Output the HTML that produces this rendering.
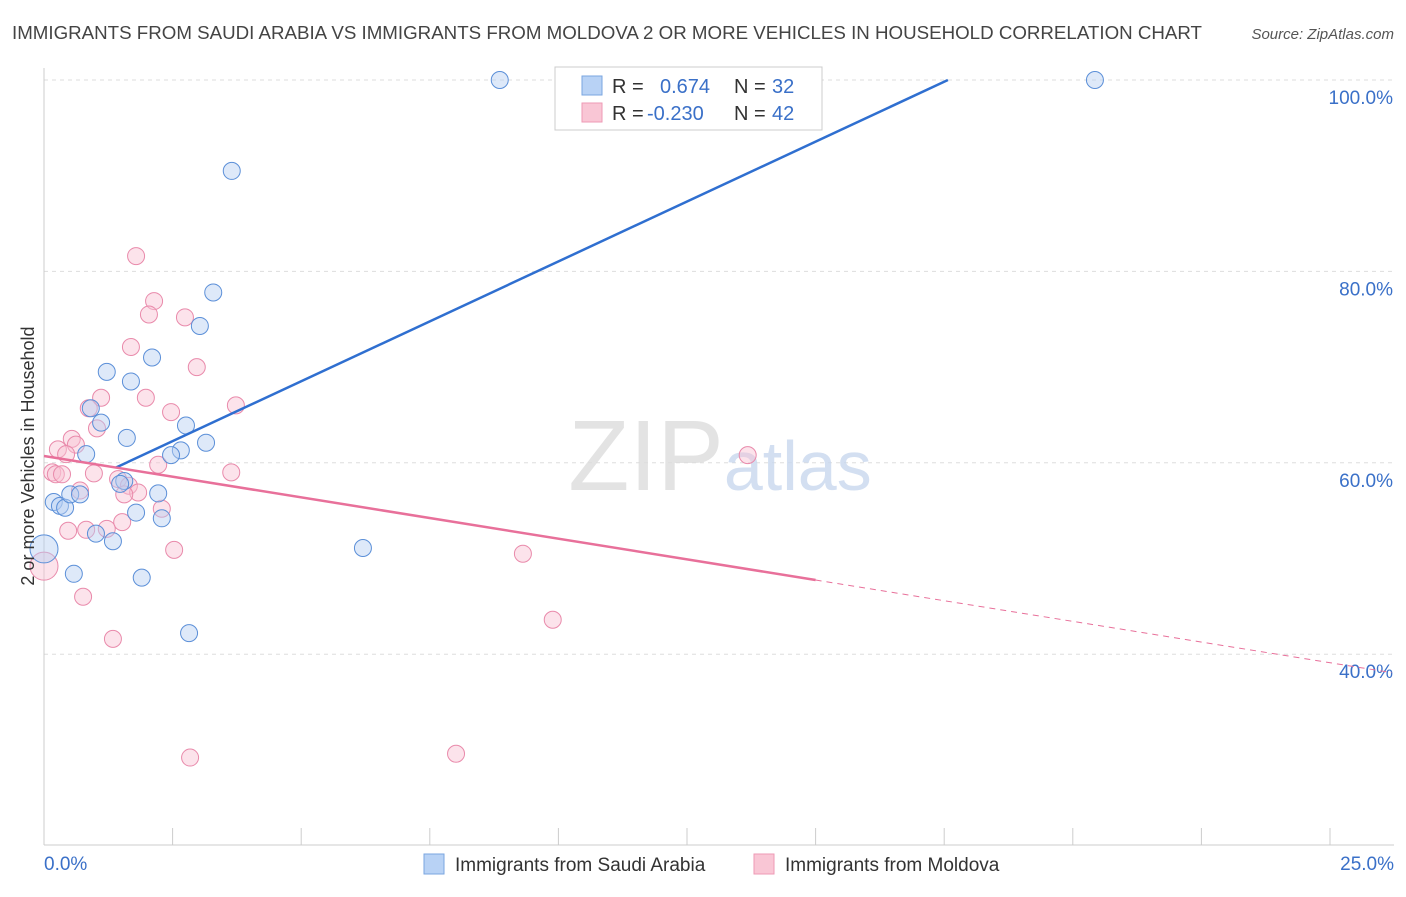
<!DOCTYPE html>
<html><head><meta charset="utf-8"><style>
body{margin:0;background:#fff;font-family:"Liberation Sans",sans-serif;}
svg text{font-family:"Liberation Sans",sans-serif;}
</style></head><body>
<svg id="chart" width="1406" height="892" xmlns="http://www.w3.org/2000/svg">
<text x="12" y="39" font-size="18.8" fill="#444" textLength="1190" lengthAdjust="spacingAndGlyphs">IMMIGRANTS FROM SAUDI ARABIA VS IMMIGRANTS FROM MOLDOVA 2 OR MORE VEHICLES IN HOUSEHOLD CORRELATION CHART</text>
<text x="1394" y="39" font-size="15" fill="#555" text-anchor="end" font-style="italic">Source: ZipAtlas.com</text>
<g id="grid"></g>
<text x="720" y="490" font-size="100" text-anchor="middle" fill="#ddd" font-family="Liberation Serif" opacity="0.8">ZIP<tspan fill="#c9d8ee" font-family="Liberation Sans" font-size="70">atlas</tspan></text>
<g id="marks"></g>
<text transform="translate(34,456) rotate(-90)" font-size="18" fill="#333" text-anchor="middle">2 or more Vehicles in Household</text>
<text x="44" y="870" font-size="19" fill="#3a70c8">0.0%</text>
<text x="1394" y="870" font-size="19" fill="#3a70c8" text-anchor="end">25.0%</text>
<g>
<rect x="555" y="67" width="267" height="63" fill="#fff" stroke="#ccc"/>
<rect x="582" y="76" width="20" height="19" fill="#b8d2f5" stroke="#7aa6e0"/>
<rect x="582" y="103" width="20" height="19" fill="#f9c6d5" stroke="#ee9ab5"/>
<text x="612" y="93" font-size="20" fill="#333">R =</text>
<text x="660" y="93" font-size="20" fill="#3a70c8">0.674</text>
<text x="734" y="93" font-size="20" fill="#333">N =</text>
<text x="772" y="93" font-size="20" fill="#3a70c8">32</text>
<text x="612" y="120" font-size="20" fill="#333">R =</text>
<text x="647" y="120" font-size="20" fill="#3a70c8">-0.230</text>
<text x="734" y="120" font-size="20" fill="#333">N =</text>
<text x="772" y="120" font-size="20" fill="#3a70c8">42</text>
</g>
<g>
<rect x="424" y="854" width="20" height="20" fill="#b8d2f5" stroke="#7aa6e0"/>
<text x="455" y="871" font-size="19" fill="#333">Immigrants from Saudi Arabia</text>
<rect x="754" y="854" width="20" height="20" fill="#f9c6d5" stroke="#ee9ab5"/>
<text x="785" y="871" font-size="19" fill="#333">Immigrants from Moldova</text>
</g>
</svg>
<script>
const yTicks=[40,60,80,100];
const yTickLabels=["40.0%","60.0%","80.0%","100.0%"];
const xTicks=[0,2.5,5,7.5,10,12.5,15,17.5,20,22.5,25];
const saudiX=[8.86,20.43,3.65,3.29,3.03,2.1,1.22,1.69,0.91,1.11,1.61,2.76,3.15,2.66,2.47,0.82,1.56,1.48,0.19,0.31,0.41,0.51,0.7,2.22,1.79,2.29,1.01,1.34,6.2,0,0.58,1.9,2.82];
const saudiY=[100,100,90.5,77.8,74.3,71,69.5,68.5,65.7,64.2,62.6,63.9,62.1,61.3,60.8,60.9,58.1,57.8,55.9,55.5,55.3,56.7,56.7,56.8,54.8,54.2,52.6,51.8,51.1,51,48.4,48,42.2];
const moldX=[1.79,2.14,2.04,2.74,1.69,2.97,1.98,3.73,1.11,0.87,2.47,1.03,0.54,0.62,0.27,0.43,0.16,0.23,0.35,0.97,3.64,2.22,1.44,1.65,1.83,0.7,1.56,2.29,1.52,1.22,0.82,0.47,2.53,9.31,13.68,0,0.76,9.89,1.34,8.01,2.84];
const moldY=[81.6,76.9,75.5,75.2,72.1,70,66.8,66,66.8,65.7,65.3,63.6,62.5,61.9,61.4,60.9,59,58.8,58.8,58.9,59,59.8,58.3,57.6,56.9,57.1,56.7,55.2,53.8,53.1,53,52.9,50.9,50.5,60.8,49.2,46,43.6,41.6,29.6,29.2];
const saudiFit=[56.0,2.504]; const moldFit=[60.71,-0.864];
const X=v=>44+v/25*1286, Y=v=>80+(100-v)*9.57;
const NS="http://www.w3.org/2000/svg";
function mk(t,a,p){const e=document.createElementNS(NS,t);for(const k in a)e.setAttribute(k,a[k]);p.appendChild(e);return e;}
const grid=document.getElementById('grid'), marks=document.getElementById('marks');
yTicks.forEach((t,i)=>{const l=mk('line',{x1:44,x2:1394,y1:Y(t),y2:Y(t),stroke:'#ddd','stroke-dasharray':'4,4'},grid);

const tx=mk('text',{x:1393,y:Y(t)+24,'font-size':19,fill:'#3a70c8','text-anchor':'end'},grid);tx.textContent=yTickLabels[i];
});
const ax=mk('line',{x1:44,x2:1394,y1:845,y2:845,stroke:'#ccc'},grid);

const ay=mk('line',{x1:44,x2:44,y1:68,y2:845,stroke:'#ccc'},grid);

xTicks.forEach(t=>{const l=mk('line',{x1:X(t),x2:X(t),y1:828,y2:845,stroke:'#ccc'},grid);
});
function pts(xs,ys,fill,stroke,name){xs.forEach((x,i)=>{const r=(x===0)?14:8.5;
const c=mk('circle',{cx:X(x),cy:Y(ys[i]),r:r,fill:fill,'fill-opacity':0.45,stroke:stroke,'stroke-width':1},marks);
});}
pts(moldX,moldY,'#f9c0d2','#e98aab','moldova-point');
pts(saudiX,saudiY,'#b5cff2','#5b8fd8','saudi-point');
const bx1=1.4, bx2=(100-saudiFit[0])/saudiFit[1];
const bl=mk('line',{x1:X(bx1),y1:Y(saudiFit[0]+saudiFit[1]*bx1),x2:X(bx2),y2:Y(100),stroke:'#2f6fd0','stroke-width':2.5},marks);

const pl=mk('line',{x1:X(0),y1:Y(moldFit[0]),x2:X(15),y2:Y(moldFit[0]+moldFit[1]*15),stroke:'#e8709a','stroke-width':2.5},marks);

const pd=mk('line',{x1:X(15),y1:Y(moldFit[0]+moldFit[1]*15),x2:X(26.2),y2:Y(moldFit[0]+moldFit[1]*26.2),stroke:'#e8709a','stroke-width':1,'stroke-dasharray':'6,5'},marks);

</script>
</body></html>
